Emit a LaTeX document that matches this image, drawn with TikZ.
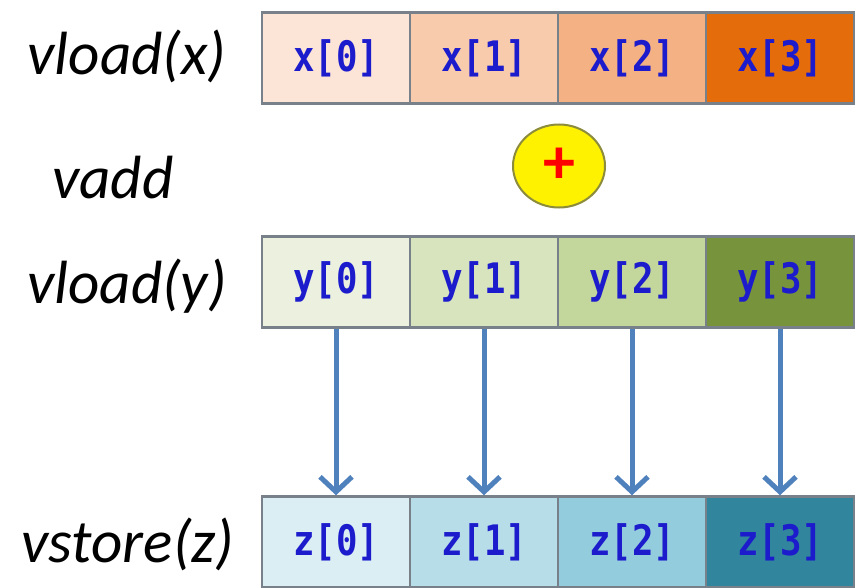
\documentclass[tikz,border=0pt]{standalone}
\usepackage{fontspec}
\setmainfont{Carlito}
\setmonofont{DejaVu Sans Mono}
\usetikzlibrary{arrows.meta,shapes.geometric}

\definecolor{xzero}{RGB}{252,229,214}
\definecolor{xone}{RGB}{248,203,173}
\definecolor{xtwo}{RGB}{244,177,131}
\definecolor{xthree}{RGB}{228,108,10}
\definecolor{yzero}{RGB}{235,241,222}
\definecolor{yone}{RGB}{215,228,189}
\definecolor{ytwo}{RGB}{195,214,155}
\definecolor{ythree}{RGB}{119,147,60}
\definecolor{zzero}{RGB}{218,238,243}
\definecolor{zone}{RGB}{183,222,232}
\definecolor{ztwo}{RGB}{147,205,221}
\definecolor{zthree}{RGB}{49,133,156}
\definecolor{cellborder}{RGB}{120,128,138}
\definecolor{cellblue}{RGB}{28,28,205}
\definecolor{arrowblue}{RGB}{79,129,189}
\definecolor{plusborder}{RGB}{140,140,60}

% narrow mono text, like the condensed font of the cells
\newcommand{\celltext}[1]{\scalebox{0.85}[1]{#1}}

\begin{document}
\begin{tikzpicture}[x=1pt, y=-1pt,
    every node/.style={inner sep=0pt},
    cell/.style={draw=cellborder, line width=2.5pt, minimum width=148pt, minimum height=91pt,
        font=\fontsize{42}{46}\selectfont\ttfamily\bfseries, text=cellblue},
    oplabel/.style={font=\fontsize{61}{66}\selectfont\itshape, anchor=base},
    flow/.style={-{Straight Barb[length=15pt,width=32pt]}, line width=5pt, draw=arrowblue}]

    \useasboundingbox (0,0) rectangle (856,588);

    % Operation names on the left
    \node[oplabel] (lx) at (127,75) {vload(x)};
    \node[oplabel] (ladd) at (113,198) {vadd};
    \node[oplabel] (ly) at (127,303) {vload(y)};
    \node[oplabel] (lz) at (128,562) {vstore(z)};

    % Draw the x vector
    \node[cell, fill=xzero] (x0) at (336,58) {\celltext{x[0]}};
    \node[cell, fill=xone] (x1) at (484,58) {\celltext{x[1]}};
    \node[cell, fill=xtwo] (x2) at (632,58) {\celltext{x[2]}};
    \node[cell, fill=xthree] (x3) at (780,58) {\celltext{x[3]}};

    % The add operator
    \node[ellipse, draw=plusborder, line width=2pt, fill=yellow, minimum width=92pt, minimum height=83pt,
        text=red, font=\fontsize{64}{68}\selectfont\bfseries] (plus) at (559,166) {+};

    % Draw the y vector
    \node[cell, fill=yzero] (y0) at (336,282) {\celltext{y[0]}};
    \node[cell, fill=yone] (y1) at (484,282) {\celltext{y[1]}};
    \node[cell, fill=ytwo] (y2) at (632,282) {\celltext{y[2]}};
    \node[cell, fill=ythree] (y3) at (780,282) {\celltext{y[3]}};

    % Draw the z vector
    \node[cell, fill=zzero] (z0) at (336,542) {\celltext{z[0]}};
    \node[cell, fill=zone] (z1) at (484,542) {\celltext{z[1]}};
    \node[cell, fill=ztwo] (z2) at (632,542) {\celltext{z[2]}};
    \node[cell, fill=zthree] (z3) at (780,542) {\celltext{z[3]}};

    % Draw the arrows storing the results
    \draw[flow] (y0) -- (z0);
    \draw[flow] (y1) -- (z1);
    \draw[flow] (y2) -- (z2);
    \draw[flow] (y3) -- (z3);

\end{tikzpicture}
\end{document}
